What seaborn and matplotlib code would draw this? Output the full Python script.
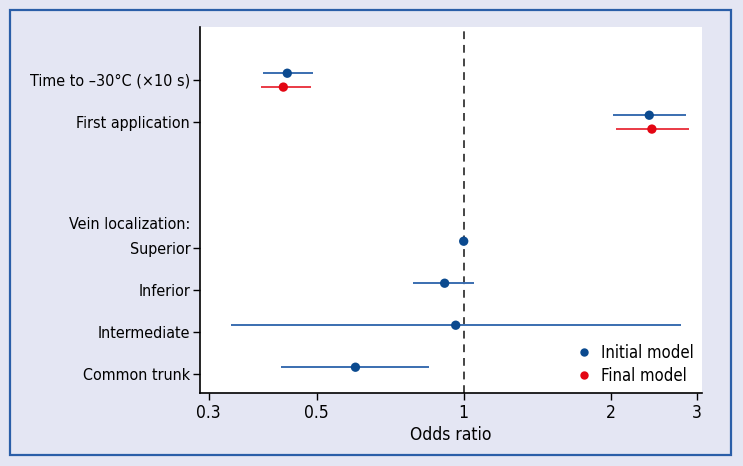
import matplotlib
matplotlib.use("Agg")
import matplotlib.pyplot as plt
from matplotlib.patches import Rectangle
import seaborn as sns
import pandas as pd

# odds ratios (log x-axis)
rows = ["Time to \u201330\u00b0C (\u00d710 s)", "First application",
        "Superior", "Inferior", "Intermediate", "Common trunk"]
row_pos = [0, 1, 4, 5, 6, 7]

initial_or = [0.435, 2.40, 1.0, 0.914, 0.963, 0.600]
initial_lo = [0.388, 2.02, 1.0, 0.789, 0.334, 0.423]
initial_hi = [0.492, 2.85, 1.0, 1.048, 2.79, 0.847]

final_rows = [0, 1]
final_or = [0.427, 2.43]
final_lo = [0.385, 2.05]
final_hi = [0.487, 2.89]

x_ticks = [0.3, 0.5, 1, 2, 3]

BLUE_PT, BLUE_LN = "#0b4a8f", "#3a6eb0"
RED_PT, RED_LN = "#e30613", "#ea3a45"
BG = "#e4e6f3"

sns.set_style("ticks")
plt.rcParams["font.family"] = ["DejaVu Sans"]
plt.rcParams["font.stretch"] = "condensed"
plt.rcParams["font.size"] = 11.5
for k in ("text.color", "axes.labelcolor", "xtick.color", "ytick.color"):
    plt.rcParams[k] = "black"

df = pd.concat([
    pd.DataFrame({"y": [row_pos[i] - 0.16 for i in range(len(rows))],
                  "or": initial_or, "lo": initial_lo, "hi": initial_hi,
                  "model": "Initial model"}),
    pd.DataFrame({"y": [row_pos[i] + 0.17 for i in final_rows],
                  "or": final_or, "lo": final_lo, "hi": final_hi,
                  "model": "Final model"}),
], ignore_index=True)

fig = plt.figure(figsize=(7.43, 4.66), dpi=100, facecolor=BG)
ax = fig.add_axes([0.269, 0.157, 0.676, 0.785])
ax.set_facecolor("white")

line_cols = {"Initial model": BLUE_LN, "Final model": RED_LN}
for model, g in df.groupby("model"):
    ax.hlines(g["y"], g["lo"], g["hi"], color=line_cols[model], lw=1.4, zorder=2)

ax.axvline(1, color="#444444", lw=1.4, ls=(0, (4, 3)), zorder=1)

sns.scatterplot(data=df, x="or", y="y", hue="model",
                palette={"Initial model": BLUE_PT, "Final model": RED_PT},
                s=45, edgecolor="none", zorder=3, ax=ax)

ax.set_xscale("log")
ax.set_xlim(0.288, 3.08)
ax.set_xticks(x_ticks)
ax.set_xticklabels([f"{t:g}" for t in x_ticks])
ax.minorticks_off()
ax.set_ylim(7.45, -1.26)
ax.set_yticks(row_pos)
ax.set_yticklabels(rows)
ax.set_xlabel("Odds ratio", labelpad=3, fontsize=12.5)
ax.set_ylabel("")
ax.text(-0.02, 3.45, "Vein localization:", transform=ax.get_yaxis_transform(),
        ha="right", va="center")

ax.tick_params(length=5, width=1, color="black", pad=2)
ax.tick_params(axis="x", labelsize=12.5, pad=3)
sns.despine(ax=ax)
for s in ("left", "bottom"):
    ax.spines[s].set_linewidth(1.2)
    ax.spines[s].set_color("black")

leg = ax.legend(loc="lower right", frameon=False, handlelength=1.0,
                handletextpad=0.5, borderaxespad=0.1, labelspacing=0.3,
                markerscale=0.9, fontsize=12)

fig.patches.append(Rectangle((10 / 743, 1 - 455 / 466), 721 / 743, 445 / 466,
                             transform=fig.transFigure, fill=False,
                             edgecolor="#2a5ea8", lw=1.6))

fig.savefig("out.png", dpi=100, facecolor=BG)
